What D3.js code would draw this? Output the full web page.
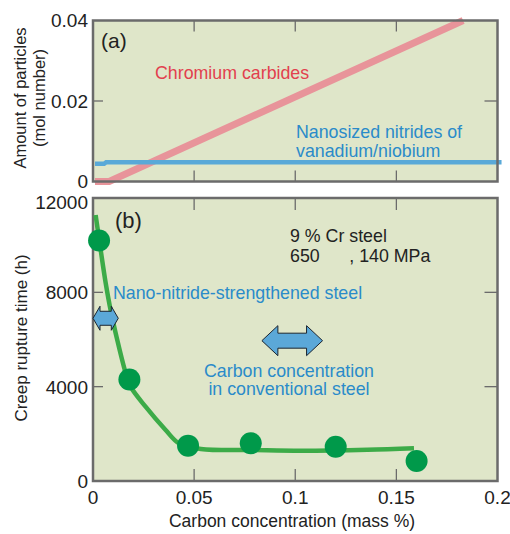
<!DOCTYPE html>
<html><head><meta charset="utf-8">
<script src="https://cdn.jsdelivr.net/npm/d3@7"></script>
<style>body{margin:0;background:#fff}svg{display:block;font-family:"Liberation Sans",Arial,sans-serif}</style>
</head><body>
<svg id="c" width="510" height="534"></svg>
<script>
// ---- data ----
const xTicks = [0, 0.05, 0.1, 0.15, 0.2];
const xTickLabels = ["0", "0.05", "0.1", "0.15", "0.2"];
const topYTicks = [0, 0.02, 0.04];
const topYTickLabels = ["0", "0.02", "0.04"];
const botYTicks = [0, 4000, 8000, 12000];
const botYTickLabels = ["0", "4000", "8000", "12000"];

const carbidesX = [0.001, 0.008, 0.183];
const carbidesY = [0.0, 0.0, 0.040];
const nitridesX = [0.001, 0.0055, 0.0065, 0.202];
const nitridesY = [0.0044, 0.0044, 0.0048, 0.0048];

const pointsX = [0.003, 0.018, 0.047, 0.078, 0.120, 0.160];
const pointsY = [10200, 4300, 1500, 1600, 1450, 850];

const curveX = [0.0013, 0.0038, 0.0063, 0.0087, 0.012, 0.0162, 0.0186, 0.026, 0.0359, 0.0425, 0.0533, 0.0800, 0.1027, 0.1357, 0.1587];
const curveY = [11280, 9795, 8381, 7250, 5979, 4566, 3999, 3150, 2162, 1598, 1360, 1310, 1280, 1320, 1386];

const smallArrowX = [0.0, 0.0125]; const smallArrowY = 6900;
const bigArrowX = [0.0835, 0.1135]; const bigArrowY = 5950;

// ---- layout ----
const svg = d3.select("#c");
const bg = "#dfe6c9", frame = "#6b6b6b";
const x = d3.scaleLinear().domain([0, 0.2]).range([93, 497.5]);
const yA = d3.scaleLinear().domain([0, 0.04]).range([181.5, 20.5]);
const yB = d3.scaleLinear().domain([0, 12000]).range([481, 198]);

function panel(y, yTicks, yLabels, tickLenX, tickLenY, topShift) {
  const [y0, y1] = y.range();
  svg.append("rect").attr("x", x(0)).attr("y", y1).attr("width", x(0.2) - x(0)).attr("height", y0 - y1).attr("fill", bg);
  const g = svg.append("g");
  xTicks.slice(1, -1).forEach(v => {
    g.append("line").attr("x1", x(v)).attr("x2", x(v)).attr("y1", y1).attr("y2", y1 + tickLenX).attr("stroke", frame).attr("stroke-width", 1.3);
    g.append("line").attr("x1", x(v)).attr("x2", x(v)).attr("y1", y0).attr("y2", y0 - tickLenX).attr("stroke", frame).attr("stroke-width", 1.3);
  });
  yTicks.slice(1, -1).forEach(v => {
    g.append("line").attr("x1", x(0)).attr("x2", x(0) + tickLenY).attr("y1", y(v)).attr("y2", y(v)).attr("stroke", frame).attr("stroke-width", 1.3);
    g.append("line").attr("x1", x(0.2)).attr("x2", x(0.2) - tickLenY - 3).attr("y1", y(v)).attr("y2", y(v)).attr("stroke", frame).attr("stroke-width", 1.3);
  });
  yTicks.forEach((v, i) => {
    const shift = (i === yTicks.length - 1) ? topShift : 0;
    svg.append("text").attr("x", x(0) - 5).attr("y", y(v) + shift).attr("dy", "0.36em").attr("text-anchor", "end")
      .attr("font-size", 19).attr("fill", "#222").text(yLabels[i]);
  });
  return g;
}

panel(yA, topYTicks, topYTickLabels, 11, 10, 0);
panel(yB, botYTicks, botYTickLabels, 12, 10, 4);

xTicks.forEach((v, i) => {
  svg.append("text").attr("x", x(v)).attr("y", 504).attr("text-anchor", "middle").attr("font-size", 19).attr("fill", "#222").text(xTickLabels[i]);
});

// panel (a) lines
const lineA = d3.line().x(d => x(d[0])).y(d => yA(d[1]));
svg.append("path").datum(carbidesX.map((v, i) => [v, carbidesY[i]])).attr("d", lineA)
  .attr("fill", "none").attr("stroke", "#e8949a").attr("stroke-width", 7);
svg.append("path").datum(nitridesX.map((v, i) => [v, nitridesY[i]])).attr("d", lineA)
  .attr("fill", "none").attr("stroke", "#59a9d8").attr("stroke-width", 4.5);

// frames
[yA, yB].forEach(y => {
  const [y0, y1] = y.range();
  svg.append("rect").attr("x", x(0)).attr("y", y1).attr("width", x(0.2) - x(0)).attr("height", y0 - y1)
    .attr("fill", "none").attr("stroke", frame).attr("stroke-width", 2.5);
});

// panel (a) text
svg.append("text").attr("x", 101).attr("y", 48).attr("font-size", 21).attr("fill", "#222").text("(a)");
svg.append("text").attr("x", 155).attr("y", 79).attr("font-size", 17.8).attr("fill", "#e2404e").text("Chromium carbides");
svg.append("text").attr("x", 296).attr("y", 138).attr("font-size", 17.8).attr("fill", "#2a8bc9").text("Nanosized nitrides of");
svg.append("text").attr("x", 296).attr("y", 157).attr("font-size", 17.8).attr("fill", "#2a8bc9").text("vanadium/niobium");
const ta = svg.append("text").attr("transform", "translate(26,98) rotate(-90)").attr("text-anchor", "middle").attr("font-size", 16.5).attr("fill", "#222");
ta.append("tspan").attr("x", 0).attr("y", 0).text("Amount of particles");
ta.append("tspan").attr("x", 0).attr("y", 19).text("(mol number)");

// panel (b)
const lineB = d3.line().x(d => x(d[0])).y(d => yB(d[1])).curve(d3.curveCatmullRom);
svg.append("path").datum(curveX.map((v, i) => [v, curveY[i]])).attr("d", lineB)
  .attr("fill", "none").attr("stroke", "#3cab48").attr("stroke-width", 4.5);
svg.append("g").selectAll("circle").data(pointsX.map((v, i) => [v, pointsY[i]])).join("circle")
  .attr("cx", d => x(d[0])).attr("cy", d => yB(d[1])).attr("r", 11).attr("fill", "#00994a");

function dblArrow(x0, x1, yc, bodyH, headH, headL) {
  const a = x(x0), b = x(x1);
  const pts = [[a, yc], [a + headL, yc - headH / 2], [a + headL, yc - bodyH / 2], [b - headL, yc - bodyH / 2], [b - headL, yc - headH / 2],
    [b, yc], [b - headL, yc + headH / 2], [b - headL, yc + bodyH / 2], [a + headL, yc + bodyH / 2], [a + headL, yc + headH / 2]];
  svg.append("polygon").attr("points", pts.map(p => p.join(",")).join(" "))
    .attr("fill", "#5ba8d8").attr("stroke", "#1c2530").attr("stroke-width", 1);
}
dblArrow(smallArrowX[0], smallArrowX[1], yB(smallArrowY), 14, 24, 7);
dblArrow(bigArrowX[0], bigArrowX[1], yB(bigArrowY), 15, 30, 16);

svg.append("text").attr("x", 115).attr("y", 228).attr("font-size", 22).attr("fill", "#222").text("(b)");
svg.append("text").attr("x", 290).attr("y", 242).attr("font-size", 17.8).attr("fill", "#222").text("9 % Cr steel");
svg.append("text").attr("x", 290).attr("y", 262).attr("font-size", 17.8).attr("fill", "#222").style("white-space", "pre").text("650      , 140 MPa");
svg.append("text").attr("x", 113).attr("y", 299).attr("font-size", 17.8).attr("fill", "#2a8bc9").text("Nano-nitride-strengthened steel");
svg.append("text").attr("x", 289).attr("y", 377).attr("text-anchor", "middle").attr("font-size", 17.8).attr("fill", "#2a8bc9").text("Carbon concentration");
svg.append("text").attr("x", 289).attr("y", 395).attr("text-anchor", "middle").attr("font-size", 17.8).attr("fill", "#2a8bc9").text("in conventional steel");

svg.append("text").attr("transform", "translate(27,338) rotate(-90)").attr("text-anchor", "middle").attr("font-size", 17).attr("fill", "#222").text("Creep rupture time (h)");
svg.append("text").attr("x", 292).attr("y", 527).attr("text-anchor", "middle").attr("font-size", 17.5).attr("fill", "#222").text("Carbon concentration (mass %)");
</script>
</body></html>
